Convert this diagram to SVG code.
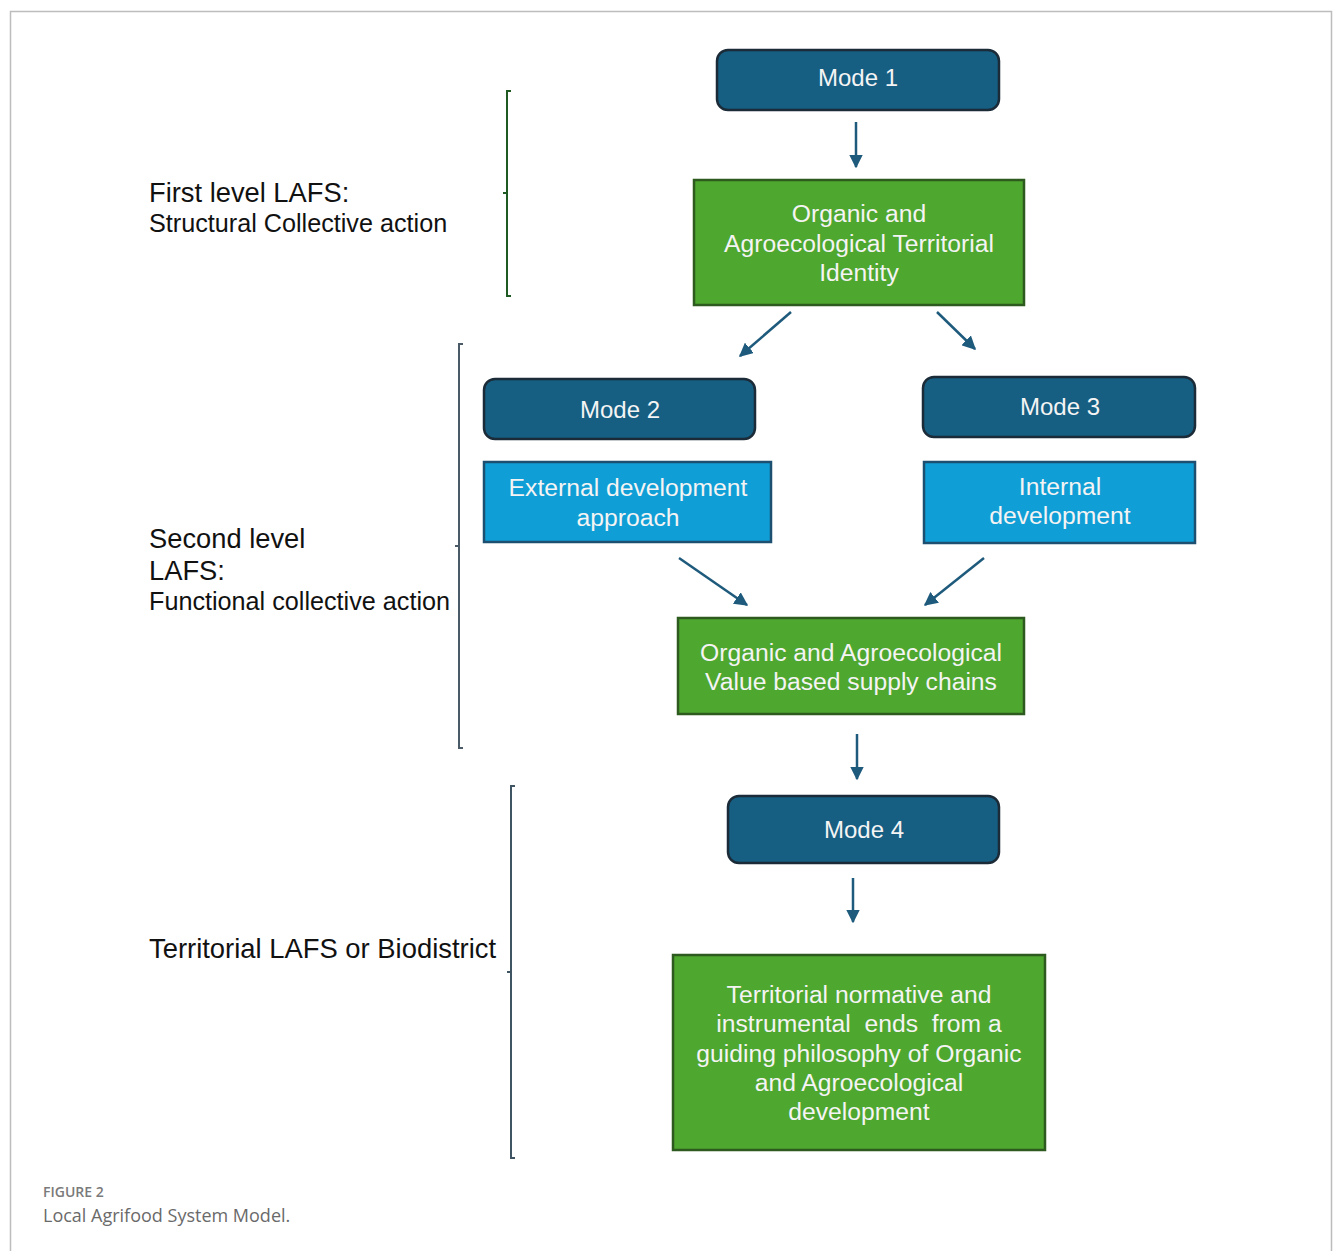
<svg xmlns="http://www.w3.org/2000/svg" width="1333" height="1251" viewBox="0 0 1333 1251">
  <style>
    .mode { fill: #165E82; stroke: #1B2B38; stroke-width: 2.5; }
    .green { fill: #4EA72E; stroke: #2D5A1E; stroke-width: 2.5; }
    .blue { fill: #109ED6; stroke: #1D4F70; stroke-width: 2.5; }
    .btxt { font-family: "Liberation Sans", Arial, sans-serif; font-size: 24.7px; fill: #F4F4F4; text-anchor: middle; }
    .mtxt { font-size: 24px; }
    .lbl { font-family: "Liberation Sans", Arial, sans-serif; fill: #111111; }
    .conn { stroke: #1E5A7C; stroke-width: 2.5; fill: none; }
    .brk { fill: none; stroke-width: 2; }
  </style>
  <defs>
    <marker id="arrow" viewBox="0 0 10 10" refX="9" refY="5" markerWidth="5.5" markerHeight="5.5" orient="auto" markerUnits="strokeWidth">
      <path d="M0,0 L10,5 L0,10 Z" fill="#1E5A7C"/>
    </marker>
  </defs>

  <!-- page frame -->
  <path d="M10.5,1251 L10.5,11.5 L1331.5,11.5 L1331.5,1251" fill="none" stroke="#BDBDBD" stroke-width="1.5"/>

  <!-- level brackets -->
  <g id="bracket-first">
    <path class="brk" stroke="#1F5A23" d="M511,91 L507,91 L507,296 L511,296 M507,193 L503,193"/>
    <text class="lbl" x="149" y="202" font-size="27.3">First level LAFS:</text>
    <text class="lbl" x="149" y="232" font-size="25.2">Structural Collective action</text>
  </g>
  <g id="bracket-second">
    <path class="brk" stroke="#4A5A66" d="M463,344 L459,344 L459,748 L463,748 M459,546 L455,546"/>
    <text class="lbl" x="149" y="548" font-size="27.3">Second level</text>
    <text class="lbl" x="149" y="580" font-size="27.3">LAFS:</text>
    <text class="lbl" x="149" y="610" font-size="25.2">Functional collective action</text>
  </g>
  <g id="bracket-territorial">
    <path class="brk" stroke="#3F5563" d="M515,786 L511,786 L511,1158 L515,1158 M511,972 L507,972"/>
    <text class="lbl" x="149" y="958" font-size="27.4">Territorial LAFS or Biodistrict</text>
  </g>

  <!-- nodes -->
  <g id="mode1">
    <rect class="mode" x="717" y="50" width="282" height="60" rx="11"/>
    <text class="btxt mtxt" x="858" y="86">Mode 1</text>
  </g>
  <g id="territorial-identity">
    <rect class="green" x="694" y="180" width="330" height="125"/>
    <text class="btxt" x="859" y="222">Organic and</text>
    <text class="btxt" x="859" y="252">Agroecological Territorial</text>
    <text class="btxt" x="859" y="281">Identity</text>
  </g>
  <g id="mode2">
    <rect class="mode" x="484" y="379" width="271" height="60" rx="11"/>
    <text class="btxt mtxt" x="620" y="418">Mode 2</text>
  </g>
  <g id="mode3">
    <rect class="mode" x="923" y="377" width="272" height="60" rx="11"/>
    <text class="btxt mtxt" x="1060" y="415">Mode 3</text>
  </g>
  <g id="external-development">
    <rect class="blue" x="484" y="462" width="287" height="80"/>
    <text class="btxt" x="628" y="496">External development</text>
    <text class="btxt" x="628" y="526">approach</text>
  </g>
  <g id="internal-development">
    <rect class="blue" x="924" y="462" width="271" height="81"/>
    <text class="btxt" x="1060" y="495">Internal</text>
    <text class="btxt" x="1060" y="524">development</text>
  </g>
  <g id="supply-chains">
    <rect class="green" x="678" y="618" width="346" height="96"/>
    <text class="btxt" x="851" y="661">Organic and Agroecological</text>
    <text class="btxt" x="851" y="690">Value based supply chains</text>
  </g>
  <g id="mode4">
    <rect class="mode" x="728" y="796" width="271" height="67" rx="11"/>
    <text class="btxt mtxt" x="864" y="838">Mode 4</text>
  </g>
  <g id="territorial-ends">
    <rect class="green" x="673" y="955" width="372" height="195"/>
    <text class="btxt" x="859" y="1003">Territorial normative and</text>
    <text class="btxt" x="859" y="1032" xml:space="preserve">instrumental  ends  from a</text>
    <text class="btxt" x="859" y="1062">guiding philosophy of Organic</text>
    <text class="btxt" x="859" y="1091">and Agroecological</text>
    <text class="btxt" x="859" y="1120">development</text>
  </g>

  <!-- connectors -->
  <g id="connectors">
    <line class="conn" x1="856" y1="122" x2="856" y2="167" marker-end="url(#arrow)"/>
    <line class="conn" x1="791" y1="312" x2="740" y2="356" marker-end="url(#arrow)"/>
    <line class="conn" x1="937" y1="312" x2="975" y2="349" marker-end="url(#arrow)"/>
    <line class="conn" x1="679" y1="558" x2="747" y2="605" marker-end="url(#arrow)"/>
    <line class="conn" x1="984" y1="558" x2="925" y2="605" marker-end="url(#arrow)"/>
    <line class="conn" x1="857" y1="734" x2="857" y2="779" marker-end="url(#arrow)"/>
    <line class="conn" x1="853" y1="878" x2="853" y2="922" marker-end="url(#arrow)"/>
  </g>

  <!-- caption -->
  <text x="43" y="1197" font-family="'Open Sans', sans-serif" font-size="14" font-weight="600" fill="#7A7A7A">FIGURE 2</text>
  <text x="43" y="1222" font-family="'Open Sans', sans-serif" font-size="18" fill="#6A6A6A">Local Agrifood System Model.</text>
</svg>
